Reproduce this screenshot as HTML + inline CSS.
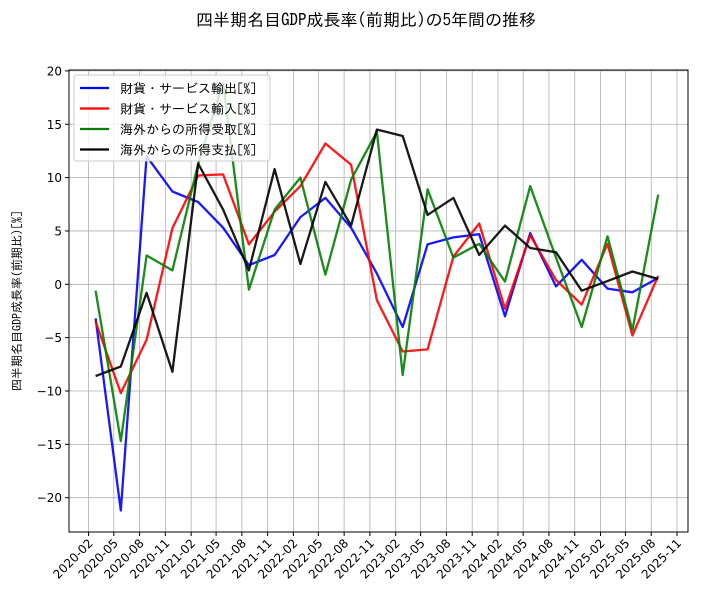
<!DOCTYPE html>
<html><head><meta charset="utf-8"><style>
body{margin:0;background:#fff;}
svg{display:block;font-family:"DejaVu Sans","Noto Sans CJK JP",sans-serif;}
.jp{font-family:"IPAGothic","Noto Sans CJK JP",sans-serif;}
</style></head><body>
<svg id="chart" width="712" height="602">
<text class="jp" x="366" y="26" text-anchor="middle" font-size="17">四半期名目GDP成長率(前期比)の5年間の推移</text>
<text class="jp" transform="translate(21,301) rotate(-90)" text-anchor="middle" font-size="12">四半期名目GDP成長率(前期比)[%]</text>
<g id="grid"></g><g id="series"></g><g id="axes"></g><g id="legend"></g>
</svg>
<script>
const categories = ["2020-02-26","2020-05-26","2020-08-26","2020-11-26","2021-02-26","2021-05-26","2021-08-26","2021-11-26","2022-02-26","2022-05-26","2022-08-26","2022-11-26","2023-02-26","2023-05-26","2023-08-26","2023-11-26","2024-02-26","2024-05-26","2024-08-26","2024-11-26","2025-02-26","2025-05-26","2025-08-26"];
const exportsVals = [-3.2,-21.2,12.0,8.7,7.7,5.3,1.8,2.75,6.3,8.1,5.3,1.0,-4.0,3.75,4.4,4.7,-3.0,4.8,-0.2,2.3,-0.4,-0.75,0.6];
const importsVals = [-3.5,-10.2,-5.2,5.25,10.2,10.3,3.75,6.8,9.2,13.2,11.2,-1.5,-6.3,-6.1,2.6,5.7,-2.3,4.6,0.4,-1.9,3.8,-4.8,0.8];
const receiptsVals = [-0.6,-14.7,2.7,1.3,11.3,18.9,-0.5,7.0,10.0,0.9,9.8,14.3,-8.5,8.9,2.5,3.8,0.25,9.2,2.5,-4.0,4.5,-4.3,8.4];
const paymentsVals = [-8.6,-7.7,-0.8,-8.2,11.3,7.0,1.3,10.8,1.9,9.6,5.5,14.5,13.9,6.5,8.1,2.75,5.5,3.4,3.0,-0.6,0.3,1.2,0.5];
const seriesNames = ["財貨・サービス輸出[%]","財貨・サービス輸入[%]","海外からの所得受取[%]","海外からの所得支払[%]"];
const yTicks = [20,15,10,5,0,-5,-10,-15,-20];
const xTicks = ["2020-02","2020-05","2020-08","2020-11","2021-02","2021-05","2021-08","2021-11","2022-02","2022-05","2022-08","2022-11","2023-02","2023-05","2023-08","2023-11","2024-02","2024-05","2024-08","2024-11","2025-02","2025-05","2025-08","2025-11"];

const NS="http://www.w3.org/2000/svg";
const L=69,R=688,T=70,B=532;
const d0=Date.UTC(2020,1,1), d1=Date.UTC(2025,10,1);
function parse(s){const p=s.split("-").map(Number);return Date.UTC(p[0],p[1]-1,p[2]||1);}
function xs(s){return 88.6+(parse(s)-d0)/(d1-d0)*588.4;}
function ys(v){return 284.3-v*10.67;}
function mk(tag,attrs,parent){const e=document.createElementNS(NS,tag);for(const k in attrs)e.setAttribute(k,attrs[k]);parent.appendChild(e);return e;}
const grid=document.getElementById("grid"),axes=document.getElementById("axes"),ser=document.getElementById("series"),leg=document.getElementById("legend");
mk("rect",{x:L,y:T,width:R-L,height:B-T,fill:"#fff"},grid);
yTicks.forEach(v=>{const y=ys(v);
 const g=mk("line",{x1:L,x2:R,y1:y,y2:y,stroke:"#b0b0b0","stroke-width":0.8},grid);
 
 
 mk("line",{x1:L-4,x2:L,y1:y,y2:y,stroke:"#000"},axes);
 const t=mk("text",{x:L-7,y:y+4.5,"text-anchor":"end","font-size":12},axes);t.textContent=String(v).replace("-","−");
 
 
});
xTicks.forEach(s=>{const x=xs(s);
 const g=mk("line",{x1:x,x2:x,y1:T,y2:B,stroke:"#b0b0b0","stroke-width":0.8},grid);
 
 
 mk("line",{x1:x,x2:x,y1:B,y2:B+4,stroke:"#000"},axes);
 const t=mk("text",{transform:`translate(${x+5},${B+12}) rotate(-45)`,"text-anchor":"end","font-size":12},axes);t.textContent=s;
 
 
});
const fr=mk("rect",{x:L,y:T,width:R-L,height:B-T,fill:"none",stroke:"#000","stroke-width":1},axes);


const all=[exportsVals,importsVals,receiptsVals,paymentsVals];
const cols=["#0000ff","#ff0000","#008000","#000000"];
const names=["line-exports","line-imports","line-income-receipts","line-income-payments"];
all.forEach((vals,i)=>{
 const pts=vals.map((v,j)=>xs(categories[j]).toFixed(1)+","+ys(v).toFixed(1)).join(" ");
 const p=mk("polyline",{points:pts,fill:"none",stroke:cols[i],"stroke-width":2.3,"stroke-opacity":0.9,"stroke-linejoin":"round"},ser);
 
 
});
const box=mk("rect",{x:74,y:75,width:196,height:86,rx:3,fill:"#fff","fill-opacity":0.8,stroke:"#ccc"},leg);


seriesNames.forEach((n,i)=>{const y=88+i*20.5;
 mk("line",{x1:80,x2:109,y1:y,y2:y,stroke:cols[i],"stroke-width":2.3},leg);
 const t=mk("text",{x:120,y:y+5,"font-size":13,"class":"jp"},leg);t.textContent=n;
 
 
});
</script>
</body></html>
